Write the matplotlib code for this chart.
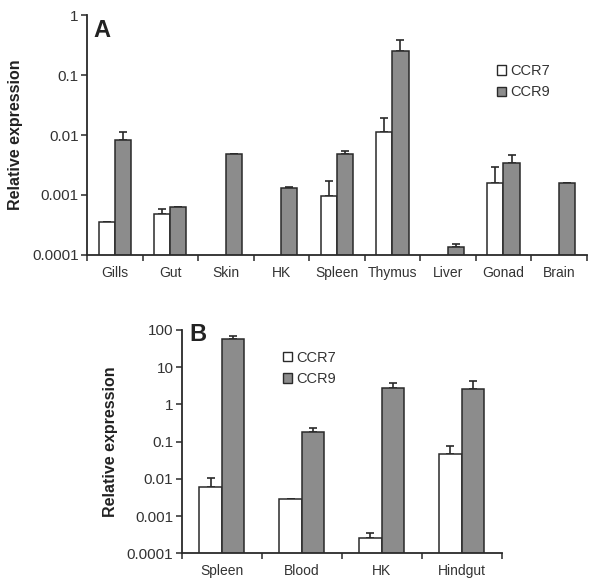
import numpy as np
import matplotlib
matplotlib.use('Agg')
import matplotlib.pyplot as plt
from matplotlib.patches import Patch
from matplotlib.ticker import FixedLocator, NullFormatter

plt.rcParams['font.family'] = ['Liberation Sans', 'DejaVu Sans']

# panel A data
tissues_a = ['Gills', 'Gut', 'Skin', 'HK', 'Spleen', 'Thymus', 'Liver', 'Gonad', 'Brain']
ccr7_a = [0.00036, 0.00049, np.nan, np.nan, 0.00097, 0.0112, np.nan, 0.0016, np.nan]
ccr7_a_err = [0.0, 0.00009, 0.0, 0.0, 0.00076, 0.008, 0.0, 0.0013, 0.0]
ccr9_a = [0.0083, 0.00062, 0.0048, 0.00132, 0.0049, 0.254, 0.000138, 0.0034, 0.00156]
ccr9_a_err = [0.0029, 0.00001, 0.0, 0.00004, 0.0005, 0.13, 0.000014, 0.0013, 0.0]
yticks_a = [0.0001, 0.001, 0.01, 0.1, 1]
ylabels_a = ['0.0001', '0.001', '0.01', '0.1', '1']

# panel B data
tissues_b = ['Spleen', 'Blood', 'HK', 'Hindgut']
ccr7_b = [0.0062, 0.00283, 0.00026, 0.0467]
ccr7_b_err = [0.0042, 0.0, 0.000085, 0.03]
ccr9_b = [57.7, 0.182, 2.78, 2.56]
ccr9_b_err = [11.0, 0.056, 1.07, 1.8]
yticks_b = [0.0001, 0.001, 0.01, 0.1, 1, 10, 100]
ylabels_b = ['0.0001', '0.001', '0.01', '0.1', '1', '10', '100']

white = 'white'
grey = '#8c8c8c'
edge = '#2a2a2a'


def draw_panel(ax, names, v7, e7, v9, e9, ticks, labels, bw):
    x = np.arange(len(names))
    v7 = np.array(v7, dtype=float)
    v9 = np.array(v9, dtype=float)
    ax.set_yscale('log')
    ax.bar(x - bw / 2, v7, width=bw, color=white, edgecolor=edge, linewidth=1.1, zorder=2)
    ax.bar(x + bw / 2, v9, width=bw, color=grey, edgecolor=edge, linewidth=1.1, zorder=2)
    # one sided error bars
    ax.errorbar(x - bw / 2, v7, yerr=[np.zeros(len(x)), e7], fmt='none', ecolor=edge,
                elinewidth=1.2, capsize=3, capthick=1.2, zorder=1)
    ax.errorbar(x + bw / 2, v9, yerr=[np.zeros(len(x)), e9], fmt='none', ecolor=edge,
                elinewidth=1.2, capsize=3, capthick=1.2, zorder=1)
    ax.set_ylim(ticks[0], ticks[-1])
    ax.set_xlim(-0.5, len(names) - 0.5)
    ax.yaxis.set_major_locator(FixedLocator(ticks))
    ax.set_yticklabels(labels)
    ax.yaxis.set_minor_formatter(NullFormatter())
    ax.yaxis.set_minor_locator(FixedLocator([]))
    ax.set_xticks(x)
    ax.set_xticklabels(names)
    ax.xaxis.set_minor_locator(FixedLocator(np.arange(len(names) + 1) - 0.5))
    ax.tick_params(axis='x', which='major', length=0, pad=8, labelsize=10, colors='#333333')
    ax.tick_params(axis='x', which='minor', length=4, width=1.1, direction='out', color=edge)
    ax.tick_params(axis='y', length=4, width=1.1, direction='out', labelsize=11,
                   colors='#333333', color=edge, pad=2)
    for s in ['top', 'right']:
        ax.spines[s].set_visible(False)
    for s in ['left', 'bottom']:
        ax.spines[s].set_color(edge)
        ax.spines[s].set_linewidth(1.3)
    ax.set_ylabel('Relative expression', fontsize=11.5, fontweight='bold', color='#222222')


fig = plt.figure(figsize=(6, 5.82), dpi=100)

ax1 = fig.add_axes([0.145, 0.562, 0.833, 0.412])
draw_panel(ax1, tissues_a, ccr7_a, ccr7_a_err, ccr9_a, ccr9_a_err, yticks_a, ylabels_a, 0.29)
ax1.yaxis.set_label_coords(-0.128, 0.5)
ax1.text(0.012, 0.985, 'A', transform=ax1.transAxes, fontsize=17, fontweight='bold',
         va='top', ha='left', color='#222222')

ax2 = fig.add_axes([0.303, 0.0493, 0.533, 0.3837])
draw_panel(ax2, tissues_b, ccr7_b, ccr7_b_err, ccr9_b, ccr9_b_err, yticks_b, ylabels_b, 0.28)
ax2.yaxis.set_label_coords(-0.199, 0.5)
ax2.text(0.025, 1.03, 'B', transform=ax2.transAxes, fontsize=17, fontweight='bold',
         va='top', ha='left', color='#222222')

handles = [Patch(facecolor=white, edgecolor=edge, linewidth=1.0, label='CCR7'),
           Patch(facecolor=grey, edgecolor=edge, linewidth=1.0, label='CCR9')]
for pos in [(0.828, 0.89), (0.472, 0.397)]:
    fig.legend(handles=handles, loc='upper left', bbox_to_anchor=pos, frameon=False,
               fontsize=10.5, handlelength=0.6, handleheight=0.6, handletextpad=0.3,
               labelspacing=0.5, borderpad=0, borderaxespad=0, labelcolor='#333333')

fig.savefig('out.png', dpi=100)
